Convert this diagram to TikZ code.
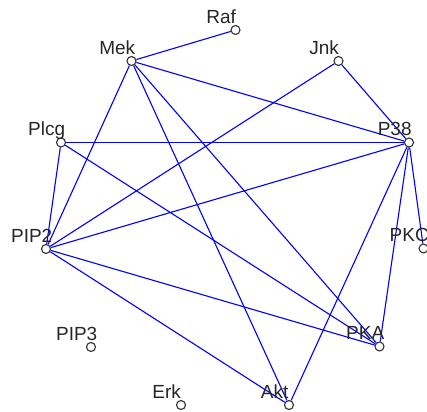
\documentclass[tikz,border=0pt]{standalone}
\usepackage{fontspec}
\setmainfont{Liberation Sans}
\begin{document}
\begin{tikzpicture}[x=1pt,y=-1pt,
  vtx/.style={circle,draw=black!80,fill=white,line width=1.1pt,minimum size=9pt,inner sep=0pt},
  edge/.style={draw=blue,line width=1.1pt},
  lbl/.style={anchor=base,inner sep=0pt,text=black!85,font=\fontsize{19}{22}\selectfont}]
\useasboundingbox (0,0) rectangle (427,411);
\clip (0,0) rectangle (427,411);
\coordinate (craf) at (235.5,30);
\coordinate (cmek) at (131.5,61);
\coordinate (cjnk) at (338.5,61);
\coordinate (cplcg) at (61,142.5);
\coordinate (cp38) at (409,142.5);
\coordinate (cpip2) at (46,249);
\coordinate (cpkc) at (423.5,248.5);
\coordinate (cpip3) at (91,347);
\coordinate (cpka) at (379.5,346.5);
\coordinate (cerk) at (181,405);
\coordinate (cakt) at (289,405);
\node[vtx] (raf) at (craf) {};
\node[vtx] (mek) at (cmek) {};
\node[vtx] (jnk) at (cjnk) {};
\node[vtx] (plcg) at (cplcg) {};
\node[vtx] (p38) at (cp38) {};
\node[vtx] (pip2) at (cpip2) {};
\node[vtx] (pkc) at (cpkc) {};
\node[vtx] (pip3) at (cpip3) {};
\node[vtx] (pka) at (cpka) {};
\node[vtx] (erk) at (cerk) {};
\node[vtx] (akt) at (cakt) {};
\path[edge] (raf) -- (mek);
\path[edge] (mek) -- (p38);
\path[edge] (mek) -- (pip2);
\path[edge] (mek) -- (pka);
\path[edge] (mek) -- (akt);
\path[edge] (jnk) -- (pip2);
\path[edge] (jnk) -- (p38);
\path[edge] (plcg) -- (p38);
\path[edge] (plcg) -- (pip2);
\path[edge] (plcg) -- (pka);
\path[edge] (p38) -- (pip2);
\path[edge] (p38) -- (pkc);
\path[edge] (p38) -- (pka);
\path[edge] (p38) -- (akt);
\path[edge] (pip2) -- (pka);
\path[edge] (pip2) -- (akt);
\node[lbl] (lraf) at ([shift={(-14.3pt,6.8pt)}]craf) {Raf};
\node[lbl] (lmek) at ([shift={(-14.3pt,6.8pt)}]cmek) {Mek};
\node[lbl] (ljnk) at ([shift={(-14.3pt,6.8pt)}]cjnk) {Jnk};
\node[lbl] (lplcg) at ([shift={(-14.3pt,6.8pt)}]cplcg) {Plcg};
\node[lbl] (lp38) at ([shift={(-14.3pt,6.8pt)}]cp38) {P38};
\node[lbl] (lpip2) at ([shift={(-14.3pt,6.8pt)}]cpip2) {PIP2};
\node[lbl] (lpkc) at ([shift={(-14.3pt,6.8pt)}]cpkc) {PKC};
\node[lbl] (lpip3) at ([shift={(-14.3pt,6.8pt)}]cpip3) {PIP3};
\node[lbl] (lpka) at ([shift={(-14.3pt,6.8pt)}]cpka) {PKA};
\node[lbl] (lerk) at ([shift={(-14.3pt,6.8pt)}]cerk) {Erk};
\node[lbl] (lakt) at ([shift={(-14.3pt,6.8pt)}]cakt) {Akt};
\end{tikzpicture}
\end{document}
